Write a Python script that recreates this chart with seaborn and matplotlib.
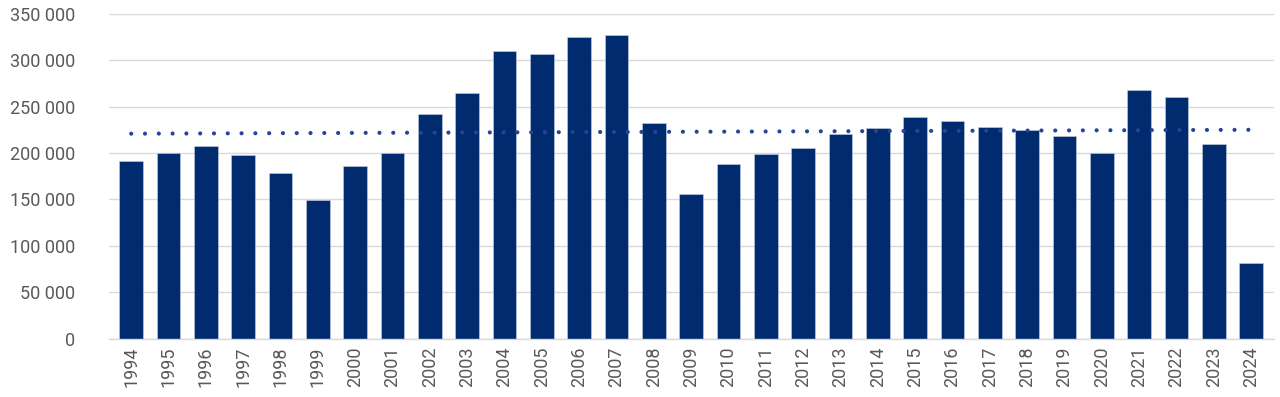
import numpy as np
import pandas as pd
import matplotlib
matplotlib.use("Agg")
import matplotlib.pyplot as plt
from matplotlib.ticker import FuncFormatter, MultipleLocator
import seaborn as sns

years = [str(y) for y in range(1994, 2025)]
values = [191500, 200350, 207400, 197900, 178400, 148900, 186200, 200000,
          241800, 264800, 310000, 307200, 324600, 327000, 232200, 155800,
          188700, 198600, 206000, 220900, 227200, 238600, 234300, 228300,
          224800, 218400, 199600, 267600, 260500, 209900, 81400]

# dotted trend line, read at first and last year
trend_years = ["1994", "2024"]
trend_values = [220900, 225100]

bar_color = "#002b6f"
trend_color = "#26449a"
text_color = "#595959"
grid_color = "#d9d9d9"

sns.set_theme(style="white")
plt.rcParams['font.family'] = ['Roboto', 'DejaVu Sans']

df = pd.DataFrame({"year": years, "value": values})

fig = plt.figure(figsize=(12.8, 3.97), dpi=100)
ax = fig.add_axes([0.085, 0.147, 0.91, 0.818])

sns.barplot(data=df, x="year", y="value", color=bar_color, width=0.63,
            saturation=1, edgecolor="#c8d0e0", linewidth=0.4, ax=ax, zorder=2)

# trend line on the category positions
trend_x = [years.index(y) for y in trend_years]
sns.lineplot(x=trend_x, y=trend_values, ax=ax, color=trend_color, linewidth=3.0)
line = ax.lines[-1]
line.set_dashes((0.01, 3.3))
line.set_dash_capstyle("round")
line.set_zorder(5)

ax.set_ylim(0, 350000)
ax.set_xlim(-0.6, len(years) - 0.4)
ax.yaxis.set_major_locator(MultipleLocator(50000))
ax.yaxis.set_major_formatter(FuncFormatter(lambda v, p: f"{int(v):,}".replace(",", " ")))
ax.grid(axis="y", color=grid_color, linewidth=1.0, zorder=0)
ax.set_axisbelow(True)

for s in ["top", "right", "left"]:
    ax.spines[s].set_visible(False)
ax.spines["bottom"].set_color(grid_color)
ax.spines["bottom"].set_linewidth(1.0)

ax.tick_params(axis="x", length=0, pad=6, labelsize=13, labelcolor=text_color,
               labelrotation=90)
ax.tick_params(axis="y", length=0, pad=24, labelsize=13, labelcolor=text_color)
ax.set_xlabel("")
ax.set_ylabel("")

fig.savefig("out.png", dpi=100)
